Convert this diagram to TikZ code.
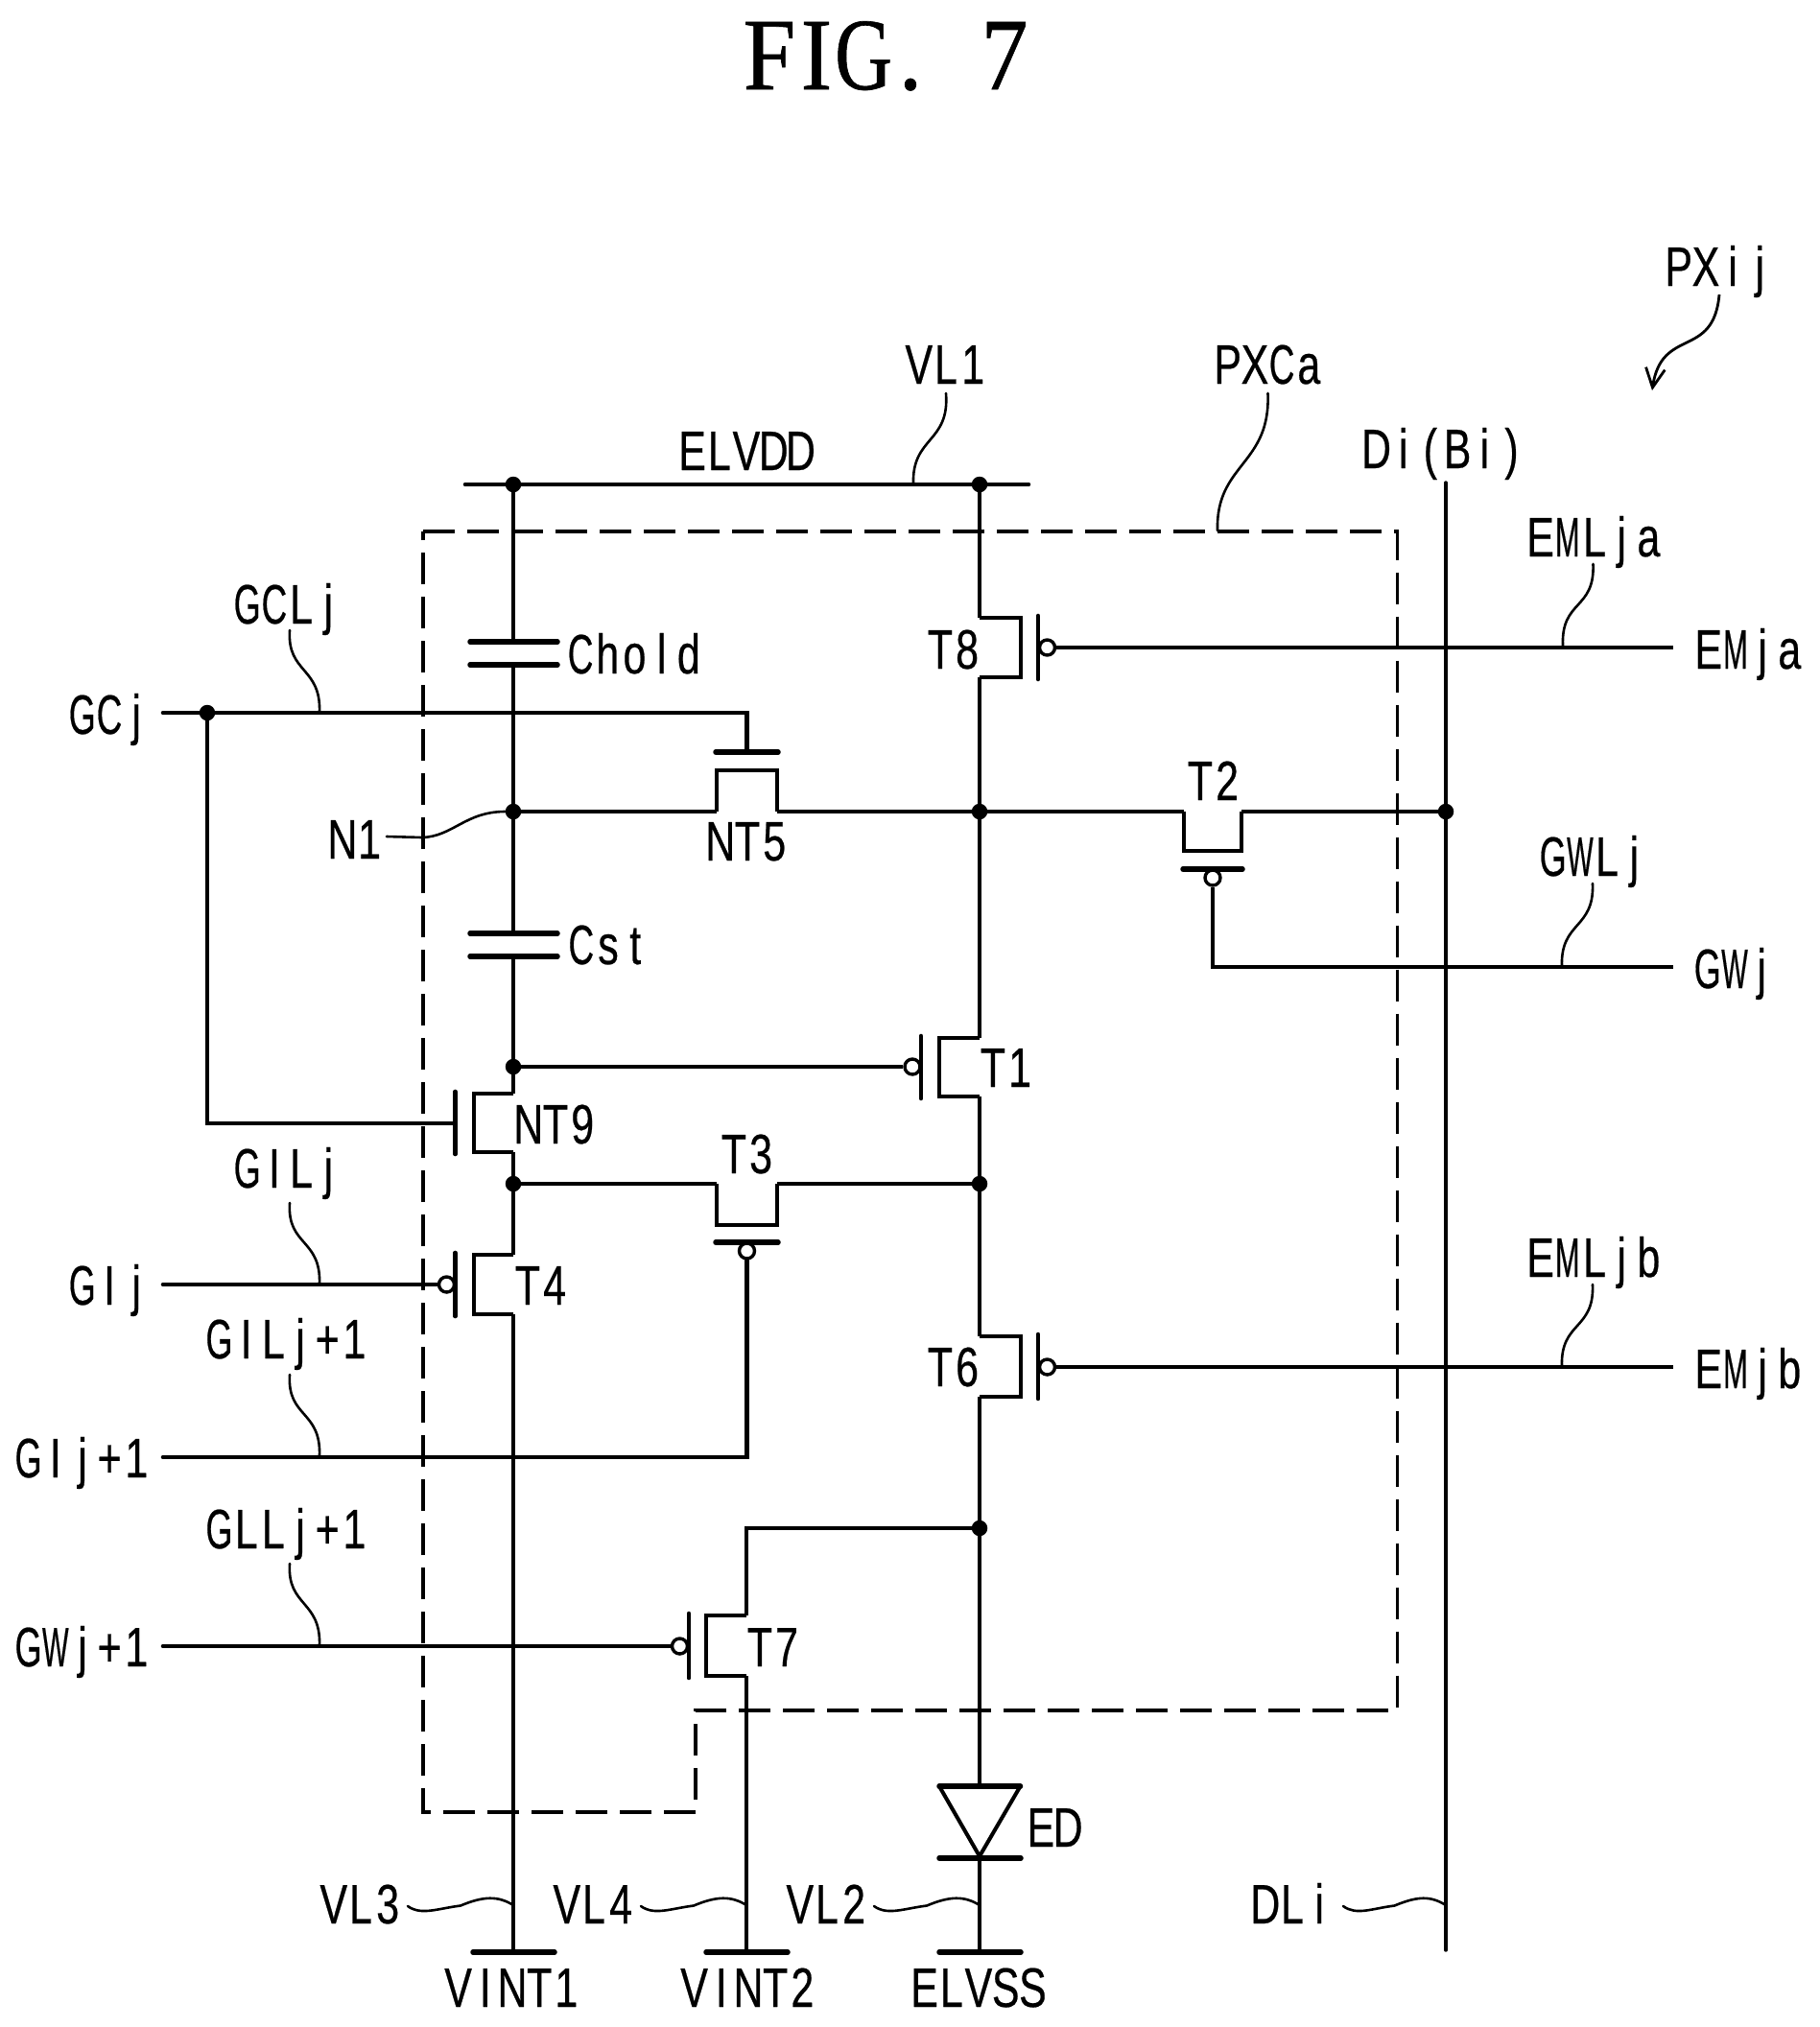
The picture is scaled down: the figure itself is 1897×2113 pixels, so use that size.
\documentclass[tikz,border=0pt]{standalone}
\usepackage{fontspec}
\usepackage{graphicx}
\usetikzlibrary{arrows.meta,calc}
\setmainfont[FakeStretch=0.74,FakeBold=0.4]{Liberation Sans}
\newfontfamily\titlefont[FakeStretch=0.92,FakeBold=0.6]{Liberation Serif}
\newlength\cellw
\setlength\cellw{28.2pt}
\makeatletter
\newcommand\oneglyph{\makebox[\cellw][c]{%
  \if M\cc \scalebox{.72}[1]{\cc}\else
  \if W\cc \scalebox{.68}[1]{\cc}\else
  \if G\cc \scalebox{.84}[1]{\cc}\else
  \if C\cc \scalebox{.86}[1]{\cc}\else
  \cc\fi\fi\fi\fi}}
\newcommand\MM[1]{\@tfor\cc:=#1\do{\oneglyph}}
\makeatother
\newcommand\vfet[6]{% name, wire x, top y, bottom y, channel x, gate x
  \coordinate (#1a) at (#2,#3);
  \coordinate (#1b) at (#2,#4);
  \coordinate (#1c) at (#5,#3);
  \coordinate (#1d) at (#5,#4);
  \coordinate (#1e) at (#6,#3-2);
  \coordinate (#1f) at (#6,#4+2);
  \draw[wire] (#1a) -- (#1c) -- (#1d) -- (#1b);
  \draw[wire,line cap=round] (#1e) -- (#1f);}
\newcommand\hfet[6]{% name, wire y, left x, right x, channel y, gate y
  \coordinate (#1a) at (#3,#2);
  \coordinate (#1b) at (#4,#2);
  \coordinate (#1c) at (#3,#5);
  \coordinate (#1d) at (#4,#5);
  \coordinate (#1e) at (#3-1,#6);
  \coordinate (#1f) at (#4+1,#6);
  \draw[wire] (#1a) -- (#1c) -- (#1d) -- (#1b);
  \draw[plate] (#1e) -- (#1f);}
\tikzset{
  wire/.style={line width=4.6pt,line join=miter},
  plate/.style={line width=5.5pt,line cap=round},
  leader/.style={line width=2.6pt,line cap=round},
  dotj/.style={circle,fill=black,inner sep=0pt,minimum size=16.5pt},
  bub/.style={circle,draw=black,fill=white,line width=3.4pt,inner sep=0pt,minimum size=16pt},
  lbl/.style={inner sep=0pt,outer sep=0pt,anchor=base,font=\fontsize{58}{58}\selectfont},
  boxdash/.style={line width=3.6pt,dash pattern=on 33pt off 13pt}
}
\begin{document}
\begin{tikzpicture}[x=1pt,y=-1pt]
\useasboundingbox (0,0) rectangle (1897,2113);
\fill[white] (0,0) rectangle (1897,2113);
% dashed outline
\draw[boxdash] (441,554) -- (1456.5,554) -- (1456.5,1783) -- (725,1783) -- (725,1889) -- (441,1889) -- cycle;
% junctions and terminals
\node[dotj] (vddA) at (535,505) {};
\node[dotj] (vddB) at (1021,505) {};
\node[dotj] (n1) at (535,846) {};
\node[dotj] (n4) at (1021,846) {};
\node[dotj] (n2) at (535,1112) {};
\node[dotj] (n3) at (535,1234) {};
\node[dotj] (n5) at (1021,1234) {};
\node[dotj] (n6) at (1021,1593) {};
\node[dotj] (nD) at (1507,846) {};
\node[dotj] (nG) at (216,743) {};
\coordinate (railL) at (485,505);
\coordinate (railR) at (1072,505);
\coordinate (cha) at (535,669);
\coordinate (chb) at (535,693);
\coordinate (csa) at (535,973);
\coordinate (csb) at (535,997);
\coordinate (bV3) at (535,2035);
\coordinate (bV4) at (778,2035);
\coordinate (bV2) at (1021,2035);
\coordinate (dTop) at (1021,1862);
\coordinate (dBot) at (1021,1937);
\coordinate (dlTop) at (1507,503);
\coordinate (dlBot) at (1507,2033);
\coordinate (gcL) at (170,743);
\coordinate (giL) at (170,1339);
\coordinate (gi1L) at (170,1519);
\coordinate (gwL) at (170,1716);
\coordinate (emaR) at (1744,675);
\coordinate (gwR) at (1744,1008);
\coordinate (embR) at (1744,1425);
% transistors
\vfet{T8}{1021}{644}{706}{1064}{1082}
\vfet{T6}{1021}{1393}{1456}{1064}{1082}
\vfet{T1}{1021}{1082}{1143}{979}{960}
\vfet{NT9}{535}{1140}{1201}{494}{474.5}
\vfet{T4}{535}{1308}{1370}{494}{474.5}
\vfet{T7}{778}{1684}{1747}{736}{718}
\hfet{NT5}{846}{747}{810}{803}{784}
\hfet{T3}{1234}{747}{810}{1277}{1295}
\hfet{T2}{846}{1234}{1294}{887}{906}
\coordinate (NT5g) at (778.5,784);
\coordinate (NT9g) at (474.5,1171);
% bubbles
\node[bub] (T8g) at (1091.5,675) {};
\node[bub] (T6g) at (1091.5,1425) {};
\node[bub] (T1g) at (951,1112) {};
\node[bub] (T4g) at (465.5,1339) {};
\node[bub] (T7g) at (708.5,1716) {};
\node[bub] (T3g) at (778.5,1304) {};
\node[bub] (T2g) at (1264,915) {};
% rails and wires
\draw[wire,line cap=round] (railL) -- (railR);
\draw[wire] (vddA) -- (cha);
\draw[plate] (490,669) -- (581,669);
\draw[plate] (490,693) -- (581,693);
\draw[wire] (chb) -- (n1) -- (csa);
\draw[plate] (490,973) -- (581,973);
\draw[plate] (490,997) -- (581,997);
\draw[wire] (csb) -- (n2) -- (NT9a);
\draw[wire] (NT9b) -- (n3) -- (T4a);
\draw[wire] (T4b) -- (bV3);
\draw[wire] (vddB) -- (T8a);
\draw[wire] (T8b) -- (n4) -- (T1a);
\draw[wire] (T1b) -- (n5) -- (T6a);
\draw[wire] (T6b) -- (n6) -- (dTop);
\draw[wire] (n1) -- (NT5a);
\draw[wire] (NT5b) -- (n4) -- (T2a);
\draw[wire] (T2b) -- (nD);
\draw[wire] (n3) -- (T3a);
\draw[wire] (T3b) -- (n5);
\draw[wire] (n2) -- (T1g);
\draw[wire,line cap=round] (gcL) -- (nG);
\draw[wire] (nG) -- (778.5,743) -- (NT5g);
\draw[wire] (nG) |- (NT9g);
\draw[wire,line cap=round] (giL) -- (T4g);
\draw[wire,line cap=round] (gi1L) -- (778.5,1519) -- (T3g);
\draw[wire,line cap=round] (gwL) -- (T7g);
\draw[wire] (T8g) -- (emaR);
\draw[wire] (T6g) -- (embR);
\draw[wire] (T2g) |- (gwR);
\draw[wire] (n6) -- (778,1593) -- (T7a);
\draw[wire] (T7b) -- (bV4);
\draw[line width=3.4pt,line cap=round] (dlTop) -- (dlBot);
% diode
\draw[line width=4pt,line join=miter] (979,1862) -- (1021,1935) -- (1063.5,1862);
\draw[plate] (979,1862) -- (1063.5,1862);
\draw[plate] (979,1937) -- (1064,1937);
\draw[wire] (dBot) -- (bV2);
% bottom bars
\draw[plate] (493,2035) -- (578,2035);
\draw[plate] (736,2035) -- (821,2035);
\draw[plate] (979,2035) -- (1064,2035);
% leaders
\coordinate (lGCLa) at (302,657); \coordinate (lGCLb) at (333,743);
\coordinate (lGILa) at (302,1254); \coordinate (lGILb) at (333,1339);
\coordinate (lGI1a) at (302,1433); \coordinate (lGI1b) at (333,1518);
\coordinate (lGLLa) at (302,1630); \coordinate (lGLLb) at (333,1716);
\draw[leader] (lGCLa) .. controls +(-3,45) and +(2,-48) .. (lGCLb);
\draw[leader] (lGILa) .. controls +(-3,45) and +(2,-48) .. (lGILb);
\draw[leader] (lGI1a) .. controls +(-3,45) and +(2,-48) .. (lGI1b);
\draw[leader] (lGLLa) .. controls +(-3,45) and +(2,-48) .. (lGLLb);
\coordinate (lEMaa) at (1660.5,588); \coordinate (lEMab) at (1629,673);
\coordinate (lGWa) at (1660,921); \coordinate (lGWb) at (1628,1008);
\coordinate (lEMba) at (1660,1339); \coordinate (lEMbb) at (1628,1425);
\coordinate (lVLa) at (986,410); \coordinate (lVLb) at (952,505);
\draw[leader] (lEMaa) .. controls +(2,48) and +(-2,-48) .. (lEMab);
\draw[leader] (lGWa) .. controls +(2,48) and +(-2,-48) .. (lGWb);
\draw[leader] (lEMba) .. controls +(2,48) and +(-2,-48) .. (lEMbb);
\draw[leader] (lVLa) .. controls +(4,52) and +(-2,-50) .. (lVLb);
\coordinate (lPXa) at (1321.5,410); \coordinate (lPXb) at (1269,553);
\draw[leader] (lPXa) .. controls +(3,75) and +(-2,-70) .. (lPXb);
\coordinate (lNa) at (403,872);
\draw[leader] (lNa) -- (440,873) .. controls (472,872) and (485,846) .. (n1);
\coordinate (lV3a) at (425,1987); \coordinate (lV3b) at (535,1986);
\coordinate (lV4a) at (668,1987); \coordinate (lV4b) at (778,1986);
\coordinate (lV2a) at (911,1987); \coordinate (lV2b) at (1021,1986);
\coordinate (lDLa) at (1400,1987); \coordinate (lDLb) at (1507,1986);
\foreach \pa/\pb in {lV3a/lV3b,lV4a/lV4b,lV2a/lV2b,lDLa/lDLb}
  \draw[leader] (\pa) .. controls +(14,10) and +(-24,3) .. ($(\pa)!.5!(\pb)$) .. controls +(24,-10) and +(-16,-10) .. (\pb);
\coordinate (aPXa) at (1792,307); \coordinate (aPXb) at (1722,407);
\draw[line width=2.8pt,-{Straight Barb[length=20pt,width=20pt]}] (aPXa) .. controls (1786,375) and (1732,340) .. (aPXb);
% labels
\node[inner sep=0pt,outer sep=0pt,anchor=base] (title) at (924.5,93) {\titlefont\fontsize{107}{107}\selectfont\setlength\cellw{49pt}\MM{FIG.}\makebox[\cellw]{ }\MM{7}};
\node[lbl] (lPXij) at (1792,298) {\MM{PXij}};
\node[lbl] (lVL1) at (986,400) {\MM{VL1}};
\node[lbl] (lPXCa) at (1322,400) {\MM{PXCa}};
\node[lbl] (lELVDD) at (778,490) {\MM{ELVDD}};
\node[lbl] (lDiBi) at (1505,488) {\MM{Di(Bi)}};
\node[lbl] (lEMLja) at (1662,580) {\MM{EMLja}};
\node[lbl] (lEMja) at (1823,697) {\MM{EMja}};
\node[lbl] (lChold) at (661.5,702) {\MM{Chold}};
\node[lbl] (lT8) at (994,697) {\MM{T8}};
\node[lbl] (lGCLj) at (300,650) {\MM{GCLj}};
\node[lbl] (lGCj) at (114,765) {\MM{GCj}};
\node[lbl] (lN1) at (371,895) {\MM{N1}};
\node[lbl] (lNT5) at (779,897) {\MM{NT5}};
\node[lbl] (lT2) at (1265,834) {\MM{T2}};
\node[lbl] (lGWLj) at (1661,913) {\MM{GWLj}};
\node[lbl] (lGWj) at (1808,1030) {\MM{GWj}};
\node[lbl] (lCst) at (634,1005) {\MM{Cst}};
\node[lbl] (lT1) at (1049,1133) {\MM{T1}};
\node[lbl] (lNT9) at (579,1192) {\MM{NT9}};
\node[lbl] (lT3) at (779,1223) {\MM{T3}};
\node[lbl] (lGILj) at (300,1238) {\MM{GILj}};
\node[lbl] (lGIj) at (114,1360) {\MM{GIj}};
\node[lbl] (lT4) at (564,1360) {\MM{T4}};
\node[lbl] (lGILj1) at (299,1416) {\MM{GILj+1}};
\node[lbl] (lT6) at (994,1445) {\MM{T6}};
\node[lbl] (lEMLjb) at (1662,1331) {\MM{EMLjb}};
\node[lbl] (lEMjb) at (1823,1447) {\MM{EMjb}};
\node[lbl] (lGIj1) at (86,1540) {\MM{GIj+1}};
\node[lbl] (lGLLj1) at (299,1614) {\MM{GLLj+1}};
\node[lbl] (lT7) at (806,1737) {\MM{T7}};
\node[lbl] (lGWj1) at (86,1737) {\MM{GWj+1}};
\node[lbl] (lED) at (1099,1925) {\MM{ED}};
\node[lbl] (lVL3) at (376,2005) {\MM{VL3}};
\node[lbl] (lVL4) at (619,2005) {\MM{VL4}};
\node[lbl] (lVL2) at (862,2005) {\MM{VL2}};
\node[lbl] (lDLi) at (1347,2005) {\MM{DLi}};
\node[lbl] (lVINT1) at (534,2092) {\MM{VINT1}};
\node[lbl] (lVINT2) at (780,2092) {\MM{VINT2}};
\node[lbl] (lELVSS) at (1020,2092) {\MM{ELVSS}};
\end{tikzpicture}
\end{document}
